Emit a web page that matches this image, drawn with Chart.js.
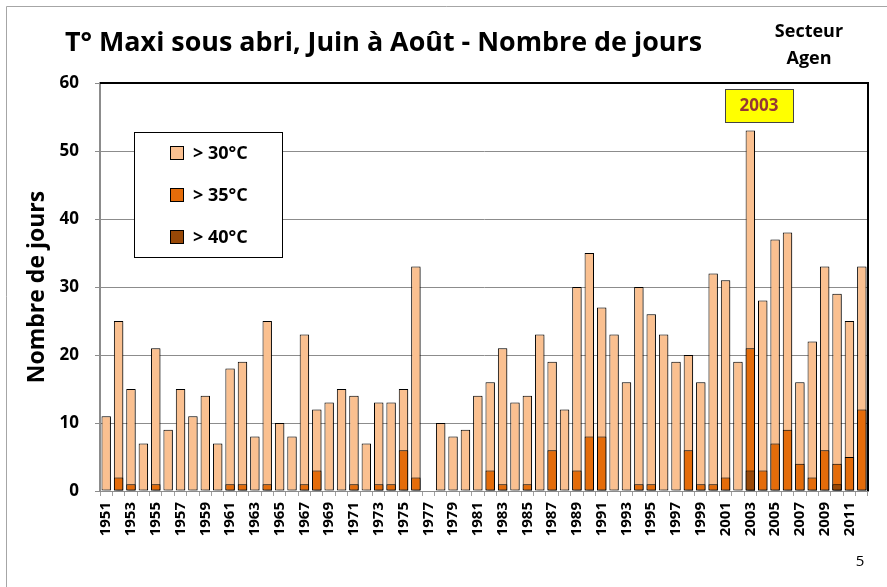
<!DOCTYPE html>
<html>
<head>
<meta charset="utf-8">
<script src="https://cdn.jsdelivr.net/npm/chart.js@4/dist/chart.umd.min.js"></script>
<style>
  html, body { margin: 0; padding: 0; background: #fff; }
  #wrap { width: 887px; height: 587px; position: relative; }
</style>
</head>
<body>
<div id="wrap"><canvas id="chart" width="887" height="587"></canvas></div>
<script>
const years = [
  "1951","1952","1953","1954","1955","1956","1957","1958","1959","1960",
  "1961","1962","1963","1964","1965","1966","1967","1968","1969","1970",
  "1971","1972","1973","1974","1975","1976","1977","1978","1979","1980",
  "1981","1982","1983","1984","1985","1986","1987","1988","1989","1990",
  "1991","1992","1993","1994","1995","1996","1997","1998","1999","2000",
  "2001","2002","2003","2004","2005","2006","2007","2008","2009","2010",
  "2011","2012"
];

// days above 30 / 35 / 40 °C (bars overlap, not stacked)
const over30 = [
  11,25,15,7,21,9,15,11,14,7,
  18,19,8,25,10,8,23,12,13,15,
  14,7,13,13,15,33,0,10,8,9,
  14,16,21,13,14,23,19,12,30,35,
  27,23,16,30,26,23,19,20,16,32,
  31,19,53,28,37,38,16,22,33,29,
  25,33
];
const over35 = [
  0,2,1,0,1,0,0,0,0,0,
  1,1,0,1,0,0,1,3,0,0,
  1,0,1,1,6,2,0,0,0,0,
  0,3,1,0,1,0,6,0,3,8,
  8,0,0,1,1,0,0,6,1,1,
  2,0,21,3,7,9,4,2,6,4,
  5,12
];
const over40 = [
  0,0,0,0,0,0,0,0,0,0,
  0,0,0,0,0,0,0,0,0,0,
  0,0,0,0,0,0,0,0,0,0,
  0,0,0,0,0,0,0,0,0,0,
  0,0,0,0,0,0,0,0,0,0,
  0,0,3,0,0,0,0,0,0,1,
  0,0
];
const seriesNames = ["> 30°C", "> 35°C", "> 40°C"];
const seriesColors = ["#FAC090", "#E46C0A", "#984807"];

const FONT = '"Open Sans", "Noto Sans", sans-serif';

/* =======================
   Decorations plugin
======================= */
const decor = {
  id: "decor",
  beforeDraw(chart) {
    const c = chart.ctx;
    c.save();
    c.fillStyle = "#fff";
    c.fillRect(0, 0, chart.width, chart.height);
    // outer frame (top + left visible)
    c.strokeStyle = "#a6a6a6";
    c.lineWidth = 1;
    c.beginPath();
    c.moveTo(6.5, chart.height);
    c.lineTo(6.5, 6.5);
    c.lineTo(chart.width, 6.5);
    c.stroke();
    c.restore();
  },
  beforeDatasetsDraw(chart) {
    const c = chart.ctx;
    c.save();
    c.shadowColor = "rgba(0,0,0,0.35)";
    c.shadowOffsetX = 2;
    c.shadowOffsetY = 1;
    c.shadowBlur = 2;
  },
  afterDatasetsDraw(chart) {
    chart.ctx.restore();
  },
  afterDraw(chart) {
    const c = chart.ctx;
    const a = chart.chartArea;
    c.save();

    // top and right border of plot
    c.strokeStyle = "#000";
    c.lineWidth = 2;
    c.beginPath();
    c.moveTo(a.left, a.top);
    c.lineTo(a.right, a.top);
    c.lineTo(a.right, a.bottom);
    c.stroke();

    // title, squeezed to the reference width
    c.fillStyle = "#000";
    c.textBaseline = "alphabetic";
    c.textAlign = "left";
    c.font = "bold 27px " + FONT;
    const title = "T° Maxi sous abri, Juin à Août - Nombre de jours";
    const tw = c.measureText(title).width;
    c.save();
    c.translate(65, 51);
    c.scale(637 / tw, 1);
    c.fillText(title, 0, 0);
    c.restore();

    // sector label
    c.textAlign = "center";
    c.font = "bold 18px " + FONT;
    c.fillText("Secteur", 809, 37);
    c.fillText("Agen", 809, 64);

    // page number
    c.font = "15px " + FONT;
    c.fillText("5", 860, 566);

    // legend box
    c.fillStyle = "#fff";
    c.fillRect(134, 132, 148, 125);
    c.strokeStyle = "#000";
    c.lineWidth = 1;
    c.strokeRect(134.5, 132.5, 148, 125);
    c.textAlign = "left";
    c.textBaseline = "middle";
    c.font = "bold 18px " + FONT;
    const rows = [153, 195, 237];
    seriesNames.forEach((name, i) => {
      c.fillStyle = seriesColors[i];
      c.fillRect(171, rows[i] - 6, 12, 12);
      c.strokeStyle = "#000";
      c.strokeRect(170.5, rows[i] - 6.5, 13, 13);
      c.fillStyle = "#000";
      c.fillText(name, 193, rows[i] + 1);
    });

    // 2003 callout
    c.fillStyle = "#FFFF00";
    c.fillRect(725, 89, 68, 33);
    c.strokeStyle = "#444";
    c.strokeRect(725.5, 89.5, 68, 33);
    c.fillStyle = "#953735";
    c.textAlign = "center";
    c.font = "bold 17px " + FONT;
    c.fillText("2003", 759, 106);

    c.restore();
  }
};

/* =======================
   Chart
======================= */
const barCommon = {
  grouped: false,
  borderColor: "#000",
  borderWidth: 1,
  borderSkipped: false,
  barPercentage: 0.76,
  categoryPercentage: 1
};

new Chart(document.getElementById("chart"), {
  type: "bar",
  data: {
    labels: years,
    datasets: [
      Object.assign({ label: seriesNames[0], data: over30, backgroundColor: seriesColors[0], order: 3 }, barCommon),
      Object.assign({ label: seriesNames[1], data: over35, backgroundColor: seriesColors[1], order: 2 }, barCommon),
      Object.assign({ label: seriesNames[2], data: over40, backgroundColor: seriesColors[2], order: 1 }, barCommon)
    ]
  },
  options: {
    responsive: false,
    animation: false,
    layout: { padding: { top: 83, right: 19, left: 0, bottom: 0 } },
    plugins: {
      legend: { display: false },
      tooltip: { enabled: false },
      title: { display: false }
    },
    scales: {
      x: {
        stacked: false,
        afterFit: s => { s.height = 96; },
        grid: { display: true, drawOnChartArea: false, color: "#a0a0a0", tickLength: 5, offset: true },
        border: { color: "#8c8c8c", width: 1 },
        ticks: {
          autoSkip: false,
          minRotation: 90,
          maxRotation: 90,
          padding: 6,
          color: "#000",
          font: { family: FONT, weight: "bold", size: 15 },
          callback: (v, i) => (i % 2 === 0 ? years[i] : "")
        }
      },
      y: {
        stacked: false,
        min: 0,
        max: 60,
        afterFit: s => { s.width = 100; },
        grid: { color: "#8c8c8c", tickLength: 5 },
        border: { color: "#8c8c8c", width: 2 },
        ticks: {
          stepSize: 10,
          padding: 16,
          color: "#000",
          font: { family: FONT, weight: "bold", size: 17 }
        },
        title: {
          display: true,
          text: "Nombre de jours",
          color: "#000",
          font: { family: FONT, weight: "bold", size: 23 },
          padding: { top: 24, bottom: 0 }
        }
      }
    }
  },
  plugins: [decor]
});
</script>
</body>
</html>
